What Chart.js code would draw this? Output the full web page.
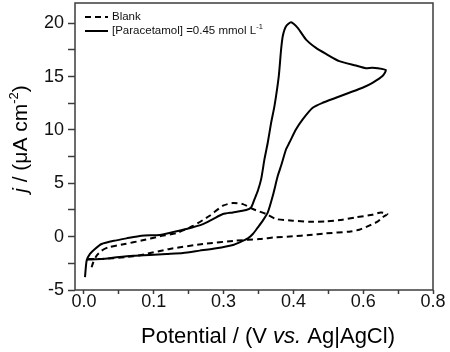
<!DOCTYPE html>
<html>
<head>
<meta charset="utf-8">
<script src="https://cdn.jsdelivr.net/npm/chart.js@4"></script>
<style>
  html, body { margin: 0; padding: 0; background: #fff; }
  #wrap { width: 450px; height: 352px; }
</style>
</head>
<body>
<div id="wrap"><canvas id="cvChart" width="450" height="352"></canvas></div>
<script>
// Blank (dashed) voltammogram
const blankPotential = [0.0175, 0.0213, 0.0290, 0.0404, 0.0556, 0.0937, 0.1318, 0.1737, 0.2118, 0.2499,
    0.2880, 0.3185, 0.3413, 0.3642, 0.3870, 0.4175, 0.4404, 0.4785, 0.5166, 0.5547,
    0.5928, 0.6232, 0.6613, 0.6804, 0.6956, 0.6842, 0.6728, 0.6537, 0.6309, 0.6080,
    0.5547, 0.5166, 0.4785, 0.4404, 0.4023, 0.3490, 0.2728, 0.1966, 0.1318, 0.0937,
    0.0404, 0.0099];
const blankCurrent = [-2.87, -2.40, -1.78, -1.31, -1.00, -0.69, -0.37, 0.03, 0.34, 1.00,
    1.96, 2.90, 3.15, 3.05, 2.59, 2.12, 1.65, 1.50, 1.40, 1.43,
    1.59, 1.81, 2.06, 2.27, 2.12, 1.81, 1.40, 1.03, 0.65, 0.47,
    0.31, 0.16, 0.03, -0.06, -0.22, -0.37, -0.69, -1.15, -1.71, -1.93,
    -2.09, -2.09];

// Paracetamol 0.45 mmol/L (solid) voltammogram
const paraPotential = [0.0023, 0.0061, 0.0137, 0.0251, 0.0404, 0.0709, 0.0975, 0.1318, 0.1737, 0.2080,
    0.2347, 0.2728, 0.2956, 0.3185, 0.3413, 0.3718, 0.3832, 0.3909, 0.3985, 0.4061,
    0.4137, 0.4213, 0.4290, 0.4366, 0.4465, 0.4518, 0.4556, 0.4632, 0.4747, 0.4899,
    0.5090, 0.5318, 0.5547, 0.5851, 0.6232, 0.6461, 0.6613, 0.6918, 0.6842, 0.6613,
    0.6385, 0.6080, 0.5775, 0.5470, 0.5242, 0.5013, 0.4861, 0.4709, 0.4632, 0.4518,
    0.4442, 0.4328, 0.4213, 0.4099, 0.3985, 0.3870, 0.3756, 0.3566, 0.3413, 0.3032,
    0.2651, 0.2270, 0.1890, 0.1509, 0.1128, 0.0747, 0.0404, 0.0099, 0.0046];
const paraCurrent = [-3.80, -2.24, -1.62, -1.15, -0.69, -0.37, -0.16, 0.09, 0.16, 0.47,
    0.72, 1.18, 1.65, 2.12, 2.27, 2.49, 2.74, 3.52, 4.30, 5.39,
    7.26, 8.82, 10.69, 12.24, 15.05, 17.54, 18.79, 19.72, 20.09, 19.56,
    18.47, 17.69, 17.13, 16.45, 16.04, 15.79, 15.83, 15.61, 15.05, 14.42,
    13.96, 13.49, 13.02, 12.55, 12.09, 11.00, 10.06, 8.82, 8.19, 6.64,
    5.70, 3.83, 2.27, 1.50, 0.87, 0.25, -0.16, -0.53, -0.78, -1.09,
    -1.31, -1.53, -1.62, -1.71, -1.78, -1.93, -2.09, -2.15, -2.24];

// tick positions and their printed labels
const xMajorTicks = [0, 0.16, 0.32, 0.48, 0.64, 0.8];
const xTickLabels = ['0.0', '0.1', '0.3', '0.4', '0.6', '0.8'];
const yMajorTicks = [-5, 0, 5, 10, 15, 20];
const yTickLabels = ['-5', '0', '5', '10', '15', '20'];

// legend text: [main, superscript]
const legendLabels = [['Blank', ''], ['[Paracetamol] =0.45 mmol L', '-1']];

const FONT = '"Liberation Sans", Arial, Helvetica, sans-serif';
const AXIS_COLOR = '#3c3c3c';

function toPoints(xs, ys) {
    return xs.map(function (x, i) { return { x: x, y: ys[i] }; });
}

function withMinors(majors) {
    const out = [];
    for (let i = 0; i < majors.length; i++) {
        out.push({ value: majors[i] });
        if (i < majors.length - 1) {
            out.push({ value: (majors[i] + majors[i + 1]) / 2 });
        }
    }
    return out;
}

function labelFor(value, majors, labels) {
    for (let i = 0; i < majors.length; i++) {
        if (Math.abs(majors[i] - value) < 1e-6) return labels[i];
    }
    return '';
}

// draws runs of text with mixed styles, returns total width
function drawRuns(ctx, runs, x, y, align) {
    let total = 0;
    runs.forEach(function (r) {
        ctx.font = r.font;
        total += ctx.measureText(r.text).width;
    });
    let cx = align === 'center' ? x - total / 2 : x;
    runs.forEach(function (r) {
        ctx.font = r.font;
        ctx.fillText(r.text, cx, y + (r.dy || 0));
        cx += ctx.measureText(r.text).width;
    });
    return total;
}

const framePlugin = {
    id: 'frameAndText',
    afterDraw: function (chart) {
        const ctx = chart.ctx;
        const a = chart.chartArea;
        ctx.save();

        // frame
        ctx.strokeStyle = AXIS_COLOR;
        ctx.lineWidth = 1.5;
        ctx.setLineDash([]);
        ctx.strokeRect(a.left, a.top, a.right - a.left, a.bottom - a.top);

        // legend inside the plot
        ctx.fillStyle = '#111';
        ctx.textBaseline = 'middle';
        ctx.textAlign = 'left';
        chart.data.datasets.forEach(function (ds, i) {
            const y = 17 + i * 14;
            ctx.strokeStyle = '#000';
            ctx.lineWidth = 2;
            ctx.setLineDash(ds.borderDash || []);
            ctx.beginPath();
            ctx.moveTo(85, y);
            ctx.lineTo(108, y);
            ctx.stroke();
            ctx.setLineDash([]);
            const runs = [{ text: legendLabels[i][0], font: '11.5px ' + FONT }];
            if (legendLabels[i][1]) {
                runs.push({ text: legendLabels[i][1], font: '7.5px ' + FONT, dy: -4 });
            }
            drawRuns(ctx, runs, 112, y, 'left');
        });

        // x axis title
        ctx.fillStyle = '#000';
        ctx.textBaseline = 'alphabetic';
        drawRuns(ctx, [
            { text: 'Potential / (V ', font: '22px ' + FONT },
            { text: 'vs.', font: 'italic 22px ' + FONT },
            { text: ' Ag|AgCl)', font: '22px ' + FONT }
        ], 268, 343, 'center');

        // y axis title (rotated)
        ctx.translate(27, 139);
        ctx.rotate(-Math.PI / 2);
        drawRuns(ctx, [
            { text: 'j', font: 'italic 21px ' + FONT },
            { text: ' / (\u03bcA cm', font: '21px ' + FONT },
            { text: '-2', font: '13px ' + FONT, dy: -9 },
            { text: ')', font: '21px ' + FONT }
        ], 0, 0, 'center');

        ctx.restore();
    }
};

const ctx = document.getElementById('cvChart').getContext('2d');
new Chart(ctx, {
    type: 'scatter',
    data: {
        datasets: [{
            label: 'Blank',
            data: toPoints(blankPotential, blankCurrent),
            showLine: true,
            borderColor: '#000',
            borderWidth: 2,
            borderDash: [6, 4],
            pointRadius: 0,
            tension: 0.2,
            fill: false
        }, {
            label: '[Paracetamol] =0.45 mmol L-1',
            data: toPoints(paraPotential, paraCurrent),
            showLine: true,
            borderColor: '#000',
            borderWidth: 2,
            pointRadius: 0,
            tension: 0.2,
            fill: false
        }]
    },
    options: {
        responsive: false,
        animation: false,
        layout: { padding: { left: 0, right: 17, top: 3, bottom: 0 } },
        plugins: {
            legend: { display: false },
            tooltip: { enabled: false }
        },
        scales: {
            x: {
                type: 'linear',
                min: -0.0206,
                max: 0.8,
                afterBuildTicks: function (scale) { scale.ticks = withMinors(xMajorTicks); },
                afterFit: function (scale) {
                    scale.height = 62;
                    scale.paddingLeft = 0;
                    scale.paddingRight = 0;
                },
                grid: {
                    drawOnChartArea: false,
                    drawTicks: true,
                    tickLength: 4,
                    tickColor: AXIS_COLOR,
                    tickWidth: 1.5
                },
                border: { display: false },
                ticks: {
                    autoSkip: false,
                    maxRotation: 0,
                    padding: -3,
                    color: '#111',
                    font: { family: FONT, size: 18 },
                    callback: function (value) { return labelFor(value, xMajorTicks, xTickLabels); }
                }
            },
            y: {
                type: 'linear',
                min: -5,
                max: 21.9,
                afterBuildTicks: function (scale) { scale.ticks = withMinors(yMajorTicks); },
                afterFit: function (scale) {
                    scale.width = 75;
                    scale.paddingTop = 0;
                    scale.paddingBottom = 0;
                },
                grid: {
                    drawOnChartArea: false,
                    drawTicks: true,
                    tickLength: 7,
                    tickColor: AXIS_COLOR,
                    tickWidth: 1.5
                },
                border: { display: false },
                ticks: {
                    autoSkip: false,
                    padding: 4,
                    color: '#111',
                    font: { family: FONT, size: 18 },
                    callback: function (value) { return labelFor(value, yMajorTicks, yTickLabels); }
                }
            }
        }
    },
    plugins: [framePlugin]
});
</script>
</body>
</html>
